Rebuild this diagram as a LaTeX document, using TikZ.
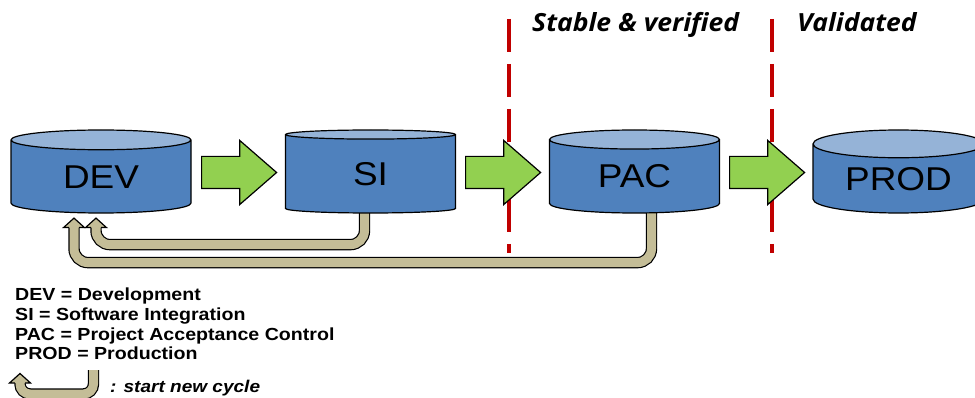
\documentclass[tikz,border=0pt]{standalone}
\usepackage{fontspec}
\setmainfont{Liberation Sans}
\newfontfamily\widefont[FakeStretch=1.12]{Liberation Sans}
\newfontfamily\phasefont[FakeStretch=1.06]{Open Sans}
\usetikzlibrary{shapes.geometric,shapes.arrows,calc}
\pgfdeclarelayer{back}
\pgfsetlayers{back,main}

\definecolor{cylbody}{HTML}{4F81BD}
\definecolor{cyltop}{HTML}{95B3D7}
\definecolor{flowgreen}{HTML}{92D050}
\definecolor{backtan}{HTML}{C4BD97}
\definecolor{gatered}{HTML}{C00000}

\tikzset{
  stage/.style={cylinder, shape border rotate=90, draw=black, line width=1.2pt,
    cylinder uses custom fill, cylinder body fill=cylbody, cylinder end fill=cyltop,
    minimum width=170pt, minimum height=83pt, aspect=0.26, inner sep=0pt,
    anchor=shape center, font=\widefont\fontsize{33}{33}\selectfont},
  flow/.style={single arrow, draw=black, line width=1.2pt, fill=flowgreen,
    minimum height=75pt, minimum width=63pt, single arrow head extend=16pt,
    single arrow tip angle=82, inner xsep=0pt, inner ysep=15.5pt, anchor=tail},
  gate/.style={draw=gatered, line width=4pt, dash pattern=on 33pt off 12pt},
  loop/.style={draw=black, line width=1.2pt, double=backtan, double distance=9pt,
    rounded corners=14pt},
  loophead/.style={draw=black, line width=1.2pt, fill=backtan, line join=miter},
  phase/.style={anchor=base west, inner sep=0pt,
    font=\phasefont\bfseries\itshape\fontsize{25}{25}\selectfont},
  defline/.style={anchor=base west, inner sep=0pt,
    font=\widefont\bfseries\fontsize{17.5}{17.5}\selectfont},
  backhead/.pic={\filldraw[loophead] (-5.2,0) -- (-10.5,0) -- (0,-9.5) -- (10.5,0) -- (5.2,0);},
}

\begin{document}
\begin{tikzpicture}[x=1pt,y=-1pt]
  \useasboundingbox (0,0) rectangle (975,398);

  % gates between the stages
  \draw[gate] (509,19) -- (509,253);
  \draw[gate] (772,19) -- (772,253);
  \node[phase] (stable) at (532,32) {Stable \& verified};
  \node[phase] (valid) at (797,32) {Validated};

  % stages
  \node[stage, minimum width=180pt] (dev) at (101,171.5) {DEV};
  \node[stage] (si) at (370.5,171.5) {SI};
  \node[stage] (pac) at (634.5,171.5) {PAC};
  \node[stage, minimum width=171pt] (prod) at (898.5,171.5) {PROD};

  % promotion arrows
  \node[flow] (up1) at (201,172.5) {};
  \node[flow] (up2) at (465,172.5) {};
  \node[flow] (up3) at (729,172.5) {};

  % back to development
  \begin{pgfonlayer}{back}
    \draw[loop] ($(si.south)+(-6,-8)$) |- ($(dev.south)+(-5,31)$) -- ($(dev.south)+(-5,12)$);
    \draw[loop] ($(pac.south)+(17,-8)$) |- ($(dev.south)+(-27,49)$) -- ($(dev.south)+(-27,12)$);
  \end{pgfonlayer}
  \pic at ($(dev.south)+(-5,14)$) {backhead};
  \pic at ($(dev.south)+(-27,14)$) {backhead};

  % legend
  \node[defline] (d1) at (15,301) {DEV = Development};
  \node[defline] (d2) at (15,320.5) {SI = Software Integration};
  \node[defline] (d3) at (15,340) {PAC = Project Acceptance Control};
  \node[defline] (d4) at (15,359.5) {PROD = Production};
  \coordinate (key) at (20,370);
  \draw[loop, rounded corners=10pt] ($(key)+(73.5,0)$) |- ($(key)+(0,24)$) -- ($(key)+(0,11)$);
  \pic at ($(key)+(0,13)$) {backhead};
  \node[defline, font=\widefont\bfseries\itshape\fontsize{17}{17}\selectfont] (cycle) at (110,392) {: start new cycle};
\end{tikzpicture}
\end{document}
